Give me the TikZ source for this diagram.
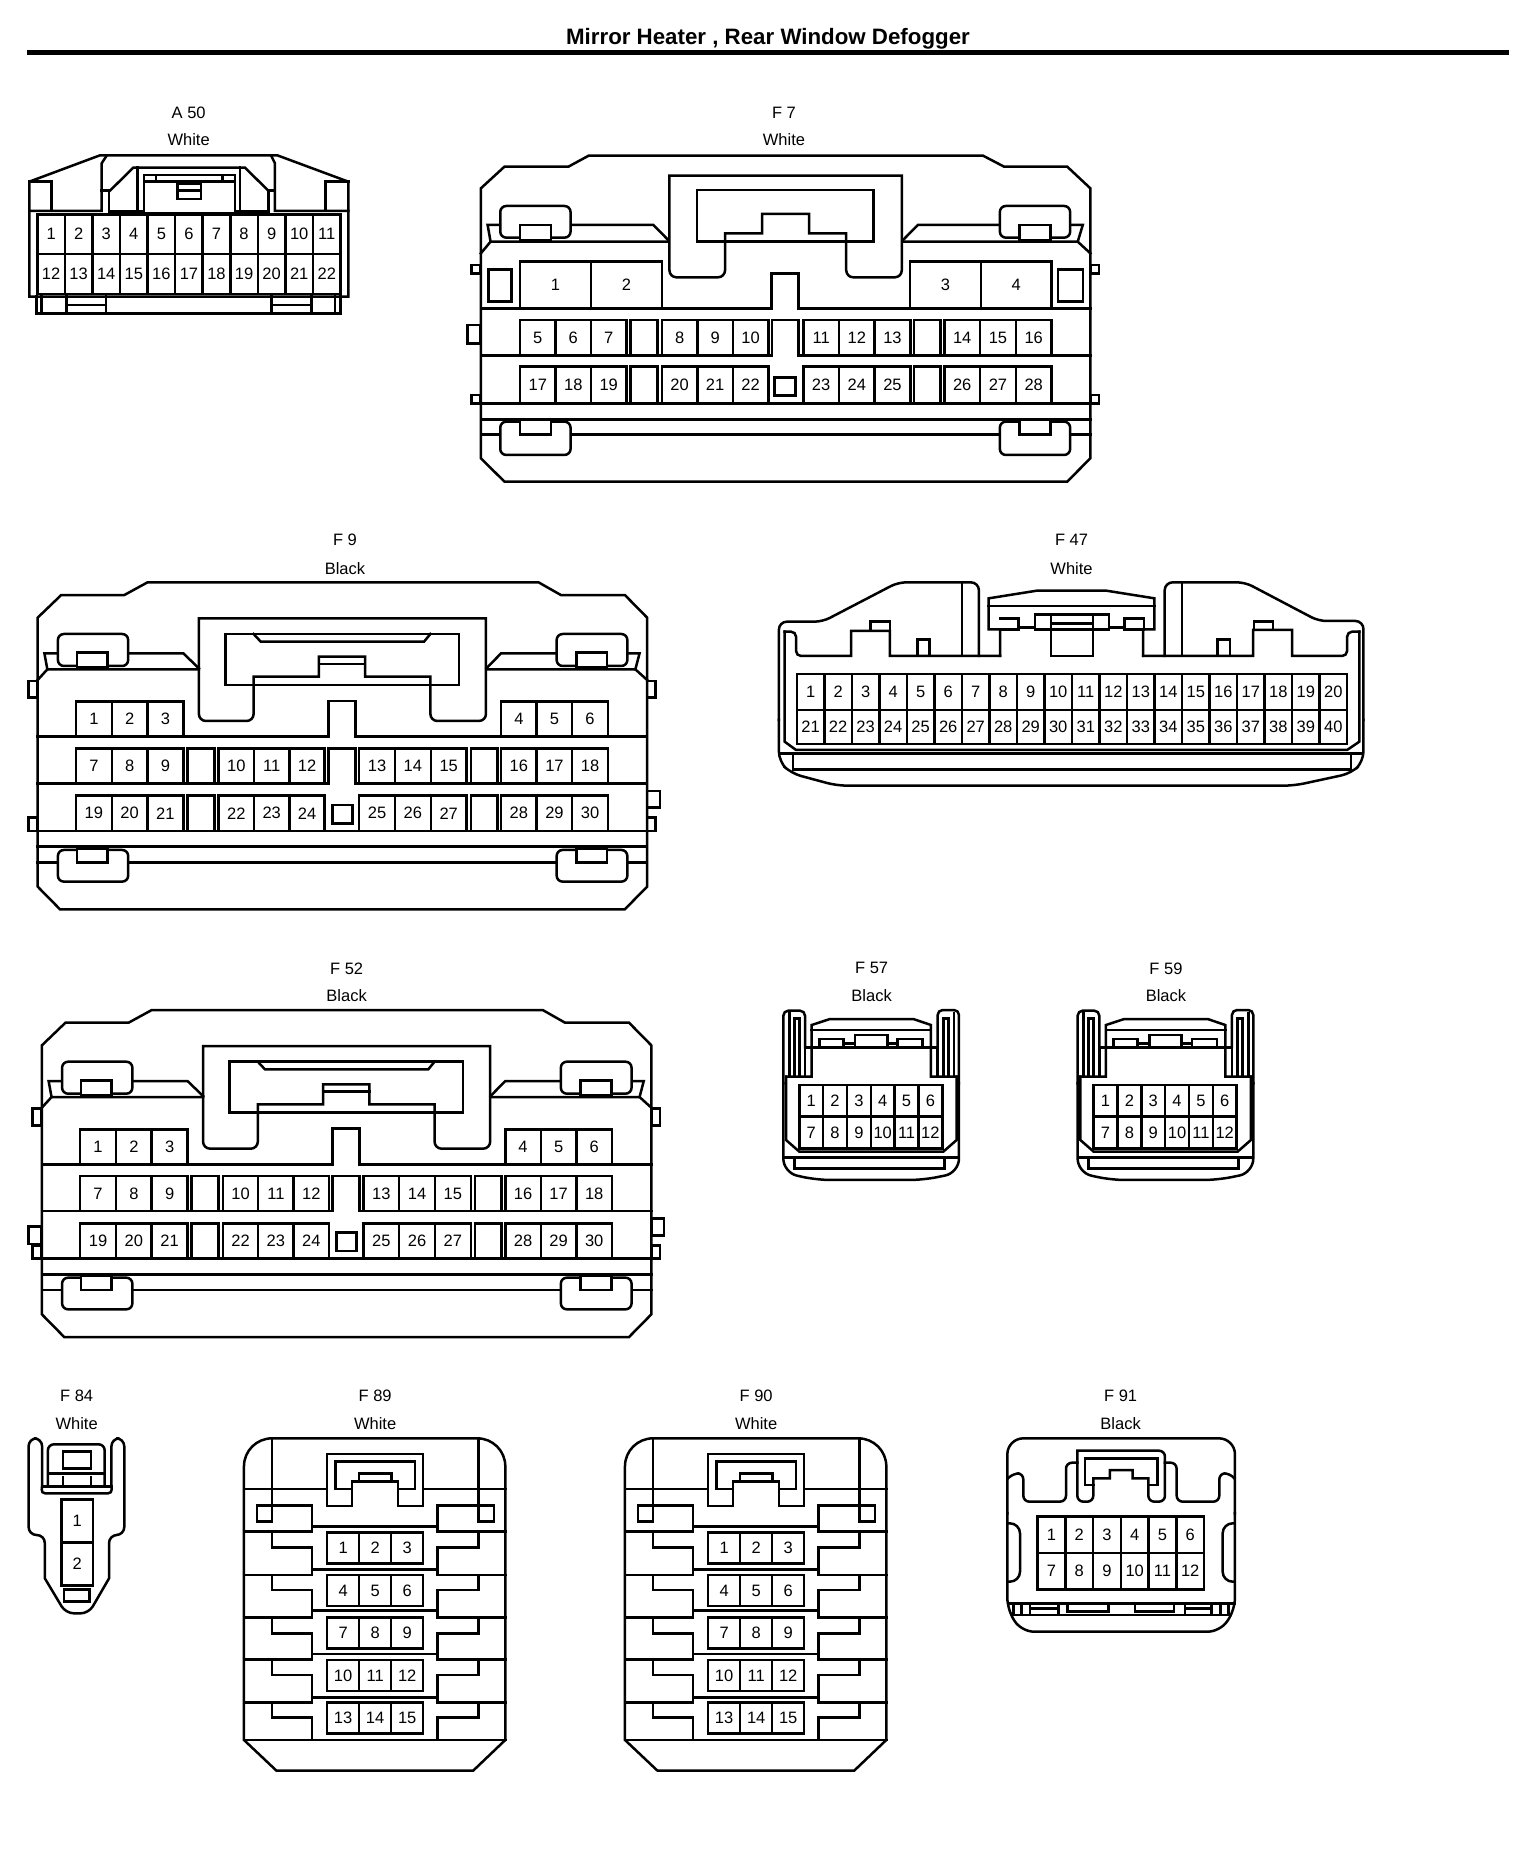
\documentclass[tikz,border=0pt]{standalone}
\usepackage{fontspec}
\setmainfont{Liberation Sans}
\usetikzlibrary{positioning}

% one row of numbered cavities
\newcommand{\pinrow}[7]{%
  \foreach \n [evaluate=\n as \cx using {#2+(\n-#6)*#4}] in {#6,...,#7}
    \draw[pinbox] (\cx,#3) rectangle +(#4,#5) node[pinnum,midway] (#1p\n) {\n};
}

% F 9 and F 52
\newcommand{\bigbody}[1]{%
  \draw (303,187) -- (1232,187) -- (1285,225) -- (1437,225) -- (1490,293) -- (1490,1100)
    -- (1437,1168) -- (95,1168) -- (42,1100) -- (42,293) -- (98,225) -- (248,225) -- cycle;
  \draw (42,480) -- (65,448) -- (425,448);
  \draw (65,448) -- (58,400) -- (388,400) -- (425,445);
  \draw (1490,480) -- (1462,448) -- (1108,448);
  \draw (1462,448) -- (1472,400) -- (1143,400) -- (1108,445);
  \draw (488,342) rectangle (1043,495);
  \draw (555,342) -- (572,365) -- (960,365) -- (975,342);
  \draw (710,432) -- (820,432);
  \draw (425,295) -- (1107,295) [rounded corners=7pt] -- (1107,603) -- (975,603) [sharp corners]
    -- (975,470) -- (820,470) -- (820,410) -- (710,410) -- (710,470) -- (555,470)
    [rounded corners=7pt] -- (555,603) -- (425,603) [sharp corners] -- cycle;
  \draw (42,650) -- (733,650) -- (733,543) -- (797,543) -- (797,650) -- (1490,650);
  \draw (42,790) -- (733,790) -- (733,685) -- (797,685) -- (797,790) -- (1490,790);
  \draw (20,933) -- (1510,933);
  \draw (42,980) -- (1490,980);
  \draw (42,1027) -- (1490,1027);
  \foreach \xa/\xb/\xc/\xd in {90/257/135/208,1275/1443/1322/1395} {
    \draw[latch] (\xa,342) rectangle (\xb,438);
    \draw[fill=white] (\xc,398) rectangle (\xd,443);
    \draw[latch] (\xa,990) rectangle (\xb,1085);
    \draw[fill=white] (\xc,985) rectangle (\xd,1027);
  }
  \draw (20,483) rectangle (40,533);
  \draw (1490,483) rectangle (1510,533);
  \draw (1490,813) rectangle (1520,863);
  \draw (20,893) rectangle (40,933);
  \draw (1490,893) rectangle (1510,933);
  \pinrow{#1}{133}{545}{85}{105}{1}{3}
  \pinrow{#1}{1143}{545}{84.5}{105}{4}{6}
  \pinrow{#1}{133}{685}{85}{105}{7}{9}
  \pinrow{#1}{472}{685}{84}{105}{10}{12}
  \pinrow{#1}{806}{685}{85}{105}{13}{15}
  \pinrow{#1}{1143}{685}{84.5}{105}{16}{18}
  \pinrow{#1}{133}{827}{85}{106}{19}{21}
  \pinrow{#1}{472}{827}{84}{106}{22}{24}
  \pinrow{#1}{806}{827}{85}{106}{25}{27}
  \pinrow{#1}{1143}{827}{84.5}{106}{28}{30}
  \foreach \ya/\yb in {685/790,827/933} {
    \draw (398,\ya) rectangle (462,\yb);
    \draw (1071,\ya) rectangle (1134,\yb);
  }
  \draw (742,855) rectangle (790,910);
}

% F 57 and F 59
\newcommand{\smallbody}[1]{%
  \draw[rounded corners=5pt] (135,292) -- (135,182) -- (70,182) -- (70,400);
  \draw[rounded corners=14pt] (70,400) -- (70,668) -- (170,690) -- (490,690) -- (597,668) -- (597,400);
  \draw[rounded corners=5pt] (597,400) -- (597,180) -- (533,180) -- (533,292);
  \draw (88,190) -- (88,380);
  \draw (103,380) -- (103,205) -- (118,205) -- (118,380);
  \draw (582,190) -- (582,380);
  \draw (550,380) -- (550,205) -- (565,205) -- (565,380);
  \draw (135,292) -- (533,292);
  \draw (78,380) -- (155,380) -- (155,225) -- (210,207) -- (460,207) -- (513,225) -- (513,380) -- (590,380);
  \draw (135,292) -- (135,380);
  \draw (533,292) -- (533,380);
  \draw (155,240) -- (513,240);
  \draw (178,290) -- (178,267) -- (250,267) -- (250,290);
  \draw (250,280) -- (285,280);
  \draw (285,290) -- (285,255) -- (382,255) -- (382,290);
  \draw (382,280) -- (413,280);
  \draw (413,290) -- (413,267) -- (488,267) -- (488,290);
  \draw (78,380) -- (78,570) -- (118,605) -- (550,605) -- (590,570) -- (590,380);
  \draw (72,622) -- (595,622);
  \draw (103,622) -- (103,655) -- (553,655) -- (553,622);
  \pinrow{#1}{118}{405}{71.5}{95}{1}{6}
  \pinrow{#1}{118}{500}{71.5}{95}{7}{12}
}

% F 89 and F 90
\newcommand{\stepbody}[1]{%
  \draw (692,300) [rounded corners=28pt] -- (692,175) -- (1465,175) [sharp corners] -- (1465,1080)
    -- (1370,1172) -- (788,1172) -- (692,1080) -- cycle;
  \draw (775,175) -- (775,425) -- (730,425) -- (730,377) -- (893,377) -- (893,455) -- (692,455);
  \draw (1385,175) -- (1385,425) -- (1432,425) -- (1432,377) -- (1265,377) -- (1265,455) -- (1465,455);
  \draw (692,327) -- (938,327);
  \draw (1222,327) -- (1465,327);
  \draw (938,378) -- (938,222) -- (1222,222) -- (1222,378) -- (1148,378) -- (1148,305) -- (1012,305) -- (1012,378) -- cycle;
  \draw (1012,327) -- (962,327) -- (962,245) -- (1198,245) -- (1198,327) -- (1148,327);
  \draw (1032,305) -- (1032,280) -- (1128,280) -- (1128,305);
  \foreach \ya/\yb/\yc in {455/502/585,585/630/712,712/760/838,838/885/967} {
    \draw (775,\ya) -- (775,\yb) -- (893,\yb) -- (893,\yc) -- (692,\yc);
    \draw (1385,\ya) -- (1385,\yb) -- (1265,\yb) -- (1265,\yc) -- (1465,\yc);
  }
  \draw (775,967) -- (775,1013) -- (893,1013) -- (893,1080);
  \draw (1385,967) -- (1385,1013) -- (1265,1013) -- (1265,1080);
  \draw (692,1080) -- (1465,1080);
  \foreach \ya in {440,568,692,822,952}
    \draw (893,\ya) -- (1265,\ya);
  \pinrow{#1}{938}{457}{94.7}{93}{1}{3}
  \pinrow{#1}{938}{585}{94.7}{93}{4}{6}
  \pinrow{#1}{938}{712}{94.7}{93}{7}{9}
  \pinrow{#1}{938}{840}{94.7}{93}{10}{12}
  \pinrow{#1}{938}{967}{94.7}{93}{13}{15}
}

\begin{document}
\begin{tikzpicture}
  [x=1pt,y=-1pt,line width=2.5pt,line cap=rect,
   pinbox/.style={draw},
   pinnum/.style={font=\fontsize{16.5}{18}\selectfont,inner sep=0pt},
   caption/.style={font=\fontsize{16.5}{18}\selectfont,inner sep=0pt},
   latch/.style={draw,fill=white,rounded corners=6pt},
   zoomview/.style n args={4}{shift={(#1,#2)},x=#3pt,y=-#4pt}]
  \useasboundingbox (0,0) rectangle (1536,1858);
  \fill[white] (0,0) rectangle (1536,1858);

  \node[font=\fontsize{22.3}{24}\selectfont\bfseries,inner sep=0pt,anchor=base] (title) at (768,44.5)
    {Mirror Heater , Rear Window Defogger};
  \coordinate (ruleL) at (27,52.5);
  \coordinate (ruleR) at (1509,52.5);
  \draw[line width=5pt,line cap=butt] (ruleL) -- (ruleR);

  % A 50
  \begin{scope}[zoomview={0}{0}{.3333}{.3333}]
    \node[caption] (a50name) at (566,337) {A 50};
    \node[caption] (a50color) at (566,420) {White};
    \draw (300,466) -- (832,466) -- (1045,545) -- (1045,890) -- (88,890) -- (88,545) -- cycle;
    \draw (110,890) -- (110,940) -- (1022,940) -- (1022,890);
    \foreach \xa in {125,200,318,815,935,1005}
      \draw (\xa,890) -- (\xa,940);
    \draw (200,915) -- (318,915);
    \draw (815,915) -- (935,915);
    \draw (88,545) -- (155,545) -- (155,633);
    \draw (1045,545) -- (977,545) -- (977,633);
    \draw (88,633) -- (305,633) -- (305,490) -- (318,470);
    \draw (1045,633) -- (825,633) -- (825,490) -- (815,470);
    \draw (305,572) -- (327,572) -- (327,640);
    \draw (825,572) -- (805,572) -- (805,640);
    \draw (330,572) -- (400,503) -- (735,503) -- (805,572);
    \draw (327,635) -- (430,635);
    \draw (705,635) -- (805,635);
    \draw (412,503) -- (412,635);
    \draw (720,503) -- (720,635);
    \draw (432,525) rectangle (705,640);
    \draw (432,545) -- (705,545);
    \draw (468,525) -- (468,545);
    \draw (668,525) -- (668,545);
    \draw (532,550) rectangle (603,597);
    \draw (532,572) -- (603,572);
    \pinrow{a}{112}{643}{82.7}{118.5}{1}{11}
    \pinrow{a}{112}{761.5}{82.7}{120.5}{12}{22}
  \end{scope}

  % F 7
  \begin{scope}[zoomview={459}{90}{.4209}{.3333}]
    \node[caption] (f7name) at (772,68) {F 7};
    \node[caption] (f7color) at (772,150) {White};
    \draw (308,197) -- (1245,197) -- (1295,230) -- (1445,230) -- (1500,295) -- (1500,1105)
      -- (1445,1175) -- (108,1175) -- (52,1105) -- (52,295) -- (108,230) -- (260,230) -- cycle;
    \draw (52,490) -- (75,455) -- (497,455);
    \draw (75,455) -- (68,405) -- (462,405) -- (497,450);
    \draw (1500,490) -- (1470,455) -- (1055,455);
    \draw (1470,455) -- (1482,405) -- (1090,405) -- (1055,450);
    \draw (565,300) rectangle (985,455);
    \draw (500,257) -- (1052,257) [rounded corners=7pt] -- (1052,562) -- (920,562) [sharp corners]
      -- (920,430) -- (832,430) -- (832,372) -- (720,372) -- (720,430) -- (632,430)
      [rounded corners=7pt] -- (632,562) -- (500,562) [sharp corners] -- cycle;
    \draw (52,655) -- (742,655) -- (742,550) -- (807,550) -- (807,655) -- (1500,655);
    \draw (52,797) -- (744,797) -- (744,690) -- (807,690) -- (807,797) -- (1500,797);
    \draw (30,940) -- (1520,940);
    \draw (52,988) -- (1500,988);
    \draw (52,1033) -- (1500,1033);
    \foreach \xa/\xb/\xc/\xd in {98/265/145/218,1285/1452/1332/1405} {
      \draw[latch] (\xa,348) rectangle (\xb,443);
      \draw[fill=white] (\xc,405) rectangle (\xd,450);
      \draw[latch] (\xa,995) rectangle (\xb,1095);
      \draw[fill=white] (\xc,990) rectangle (\xd,1033);
    }
    \draw (30,525) rectangle (50,550);
    \draw (20,705) rectangle (50,760);
    \draw (30,915) rectangle (50,940);
    \draw (1500,525) rectangle (1520,550);
    \draw (1500,915) rectangle (1520,940);
    \draw (70,538) rectangle (125,635);
    \draw (1423,538) rectangle (1482,635);
    \pinrow{f7}{145}{515}{168.5}{140}{1}{2}
    \pinrow{f7}{1072}{515}{168}{140}{3}{4}
    \pinrow{f7}{145}{690}{84.3}{107}{5}{7}
    \pinrow{f7}{482}{690}{84.3}{107}{8}{10}
    \pinrow{f7}{818}{690}{84.7}{107}{11}{13}
    \pinrow{f7}{1153}{690}{85}{107}{14}{16}
    \pinrow{f7}{145}{830}{84.3}{110}{17}{19}
    \pinrow{f7}{482}{830}{84.3}{110}{20}{22}
    \pinrow{f7}{818}{830}{84.7}{110}{23}{25}
    \pinrow{f7}{1153}{830}{85}{110}{26}{28}
    \foreach \ya/\yb in {690/797,830/940} {
      \draw (408,\ya) rectangle (472,\yb);
      \draw (1081,\ya) rectangle (1144,\yb);
    }
    \draw (750,862) rectangle (800,917);
  \end{scope}

  % F 9
  \begin{scope}[zoomview={20}{520}{.4209}{.3333}]
    \node[caption] (f9name) at (772,60) {F 9};
    \node[caption] (f9color) at (772,145) {Black};
    \bigbody{f9}
  \end{scope}

  % F 52
  \begin{scope}[zoomview={24.2}{947.7}{.4209}{.3333}]
    \node[caption] (f52name) at (766,62) {F 52};
    \node[caption] (f52color) at (766,145) {Black};
    \bigbody{f52}
    \draw (10,837) rectangle (40,889);
  \end{scope}

  % F 47
  \begin{scope}[zoomview={759.3}{520}{.4082}{.3333}]
    \node[caption] (f47name) at (765,60) {F 47};
    \node[caption] (f47color) at (765,145) {White};
    \draw[rounded corners=8pt] (48,600) -- (48,305) -- (155,305) -- (340,187) -- (538,187) -- (538,408);
    \draw[rounded corners=8pt] (993,408) -- (993,187) -- (1190,187) -- (1370,303) -- (1480,303) -- (1480,600);
    \draw[rounded corners=10pt] (48,600) -- (48,725) -- (78,760) -- (190,797) -- (1310,797) -- (1450,760) -- (1480,725) -- (1480,600);
    \draw (497,190) -- (497,408);
    \draw (1035,190) -- (1035,408);
    \draw (62,335) -- (62,665) -- (90,690) -- (1440,690) -- (1470,665) -- (1470,335);
    \draw[rounded corners=5pt] (62,335) -- (90,335) -- (90,408) [sharp corners] -- (225,408) -- (225,333) -- (320,333) -- (320,408) -- (590,408);
    \draw[rounded corners=5pt] (1470,335) -- (1440,335) -- (1440,408) [sharp corners] -- (1305,408) -- (1305,330) -- (1210,330) -- (1210,408) -- (940,408);
    \draw (272,333) -- (272,305) -- (320,305) -- (320,333);
    \draw (388,408) -- (388,358) -- (417,358) -- (417,408);
    \draw (1212,330) -- (1212,305) -- (1258,305) -- (1258,330);
    \draw (1122,408) -- (1122,358) -- (1153,358) -- (1153,408);
    \draw (590,408) -- (590,328) -- (562,328) -- (562,235) -- (680,212) -- (850,212) -- (968,235) -- (968,328) -- (940,328) -- (940,408);
    \draw (562,258) -- (968,258);
    \draw (590,295) -- (635,295) -- (635,328) -- (590,328);
    \draw (635,322) -- (675,322);
    \draw (675,328) -- (675,283) -- (857,283) -- (857,328) -- cycle;
    \draw (857,322) -- (895,322);
    \draw (895,295) -- (942,295) -- (942,328) -- (895,328) -- cycle;
    \draw (715,283) -- (715,408) -- (818,408) -- (818,283);
    \draw (715,310) -- (818,310);
    \draw (82,700) -- (1450,700);
    \draw (50,700) -- (82,700);
    \draw (1450,700) -- (1478,700);
    \draw (82,700) -- (82,748) -- (1450,748) -- (1450,700);
    \pinrow{f47}{92}{462}{67.4}{108}{1}{20}
    \pinrow{f47}{92}{570}{67.4}{102}{21}{40}
  \end{scope}

  % F 57
  \begin{scope}[zoomview={760}{950}{.3333}{.3333}]
    \node[caption] (f57name) at (335,55) {F 57};
    \node[caption] (f57color) at (335,137) {Black};
    \smallbody{f57}
  \end{scope}

  % F 59
  \begin{scope}[zoomview={1054.3}{950}{.3333}{.3333}]
    \node[caption] (f59name) at (335,55) {F 59};
    \node[caption] (f59color) at (335,137) {Black};
    \smallbody{f59}
  \end{scope}

  % F 84
  \begin{scope}[zoomview={10}{1380}{.3381}{.3333}]
    \node[caption] (f84name) at (197,48) {F 84};
    \node[caption] (f84color) at (197,130) {White};
    \draw[rounded corners=8pt] (95,320) -- (95,175) -- (55,175) -- (55,465) -- (103,465) [sharp corners] -- (103,595)
      [rounded corners=8pt] -- (165,700) -- (233,700) [sharp corners] -- (293,595)
      [rounded corners=8pt] -- (293,465) -- (338,465) -- (338,175) -- (300,175) -- (300,320);
    \draw[rounded corners=4pt] (95,320) -- (92,340) -- (302,340) -- (300,320);
    \draw (95,320) -- (300,320);
    \draw[rounded corners=6pt] (112,320) -- (112,193) -- (280,193) -- (280,320);
    \draw (157,215) rectangle (240,265);
    \draw (112,280) -- (280,280);
    \draw (157,292) -- (157,320);
    \draw (240,292) -- (240,320);
    \foreach \n/\ya in {1/358,2/488}
      \draw[pinbox] (152,\ya) rectangle +(93,129) node[pinnum,midway] (f84p\n) {\n};
    \draw (160,628) rectangle (235,665);
  \end{scope}

  % F 89
  \begin{scope}[zoomview={10}{1380}{.3381}{.3333}]
    \node[caption] (f89name) at (1080,48) {F 89};
    \node[caption] (f89color) at (1080,130) {White};
    \stepbody{f89}
  \end{scope}

  % F 90
  \begin{scope}[zoomview={391}{1380}{.3381}{.3333}]
    \node[caption] (f90name) at (1080,48) {F 90};
    \node[caption] (f90color) at (1080,130) {White};
    \stepbody{f90}
  \end{scope}

  % F 91
  \begin{scope}[zoomview={980}{1380}{.3333}{.3333}]
    \node[caption] (f91name) at (422,48) {F 91};
    \node[caption] (f91color) at (422,130) {Black};
    \draw[rounded corners=16pt] (82,400) -- (82,175) -- (765,175) -- (765,400);
    \draw[rounded corners=12pt] (82,400) -- (82,690) -- (125,755) -- (720,755) -- (765,690) -- (765,400);
    \draw[rounded corners=6pt] (84,295) -- (100,280) -- (130,280) -- (130,365) -- (258,365) -- (258,248) -- (292,248);
    \draw[rounded corners=6pt] (555,248) -- (590,248) -- (590,365) -- (718,365) -- (718,280) -- (750,280) -- (763,295);
    \draw[rounded corners=6pt] (292,212) -- (555,212) -- (555,365) -- (505,365) [sharp corners] -- (505,295) -- (458,295) -- (458,270) -- (390,270) -- (390,295) -- (340,295)
      [rounded corners=6pt] -- (340,365) -- (292,365) [sharp corners] -- cycle;
    \draw (340,315) -- (315,315) -- (315,235) -- (532,235) -- (532,315) -- (505,315);
    \draw[rounded corners=10pt] (84,430) -- (120,430) -- (120,605) -- (84,605);
    \draw[rounded corners=10pt] (763,430) -- (728,430) -- (728,605) -- (763,605);
    \draw (84,670) -- (763,670);
    \draw (96,705) -- (752,705);
    \foreach \xa in {100,125,150,235,615,695,722,745}
      \draw (\xa,670) -- (\xa,705);
    \draw (150,685) -- (235,685);
    \draw (615,685) -- (695,685);
    \draw (262,670) -- (262,695) -- (385,695) -- (385,670);
    \draw (465,670) -- (465,695) -- (582,695) -- (582,670);
    \pinrow{f91}{173}{410}{83.2}{109}{1}{6}
    \pinrow{f91}{173}{519}{83.2}{109}{7}{12}
  \end{scope}
\end{tikzpicture}
\end{document}
